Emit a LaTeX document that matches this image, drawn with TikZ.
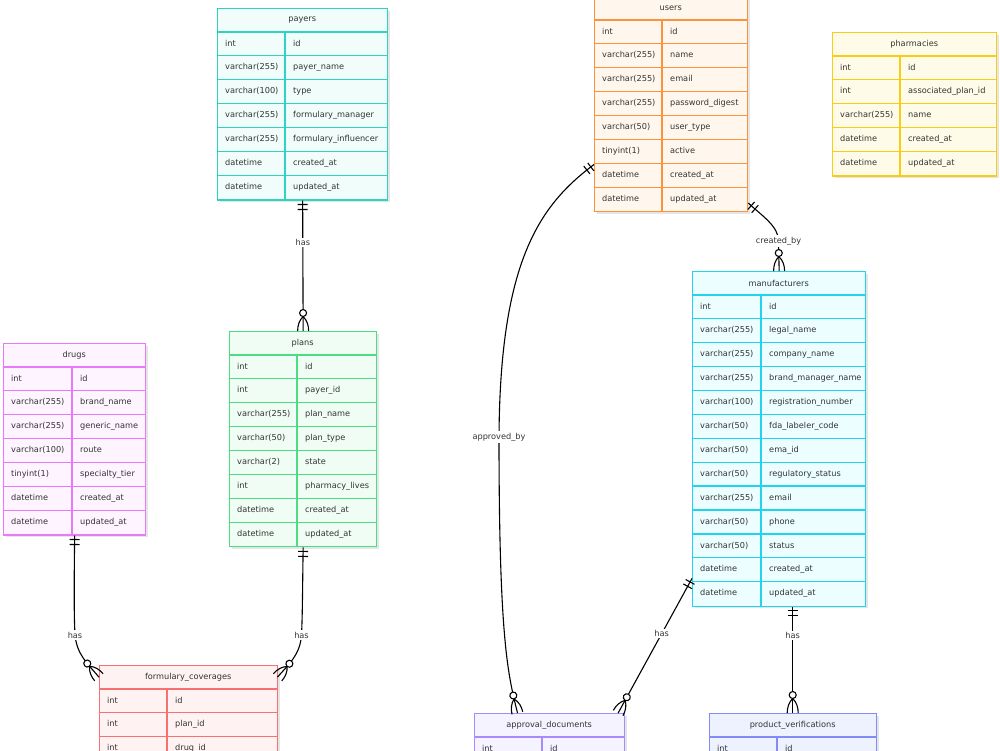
\documentclass[tikz,border=0pt]{standalone}
\usepackage{fontspec}
\newfontfamily\erfont{DejaVu Sans}
\usetikzlibrary{positioning, decorations.markings, shadows}

\definecolor{txt}{HTML}{333333}
\definecolor{tealD}{HTML}{2DD4BF}   \definecolor{tealL}{HTML}{F0FDFA}
\definecolor{greenD}{HTML}{4ADE80}  \definecolor{greenL}{HTML}{F0FDF4}
\definecolor{pinkD}{HTML}{E879F9}   \definecolor{pinkL}{HTML}{FDF4FF}
\definecolor{redD}{HTML}{F87171}    \definecolor{redL}{HTML}{FEF2F2}
\definecolor{orangeD}{HTML}{FB923C} \definecolor{orangeL}{HTML}{FFF7ED}
\definecolor{yellowD}{HTML}{FACC15} \definecolor{yellowL}{HTML}{FEFCE8}
\definecolor{cyanD}{HTML}{22D3EE}   \definecolor{cyanL}{HTML}{ECFEFF}
\definecolor{violetD}{HTML}{A78BFA} \definecolor{violetL}{HTML}{F5F3FF}
\definecolor{indigoD}{HTML}{818CF8} \definecolor{indigoL}{HTML}{EEF2FF}

\begin{document}
\begin{tikzpicture}[
    x=1pt, y=-1pt,
    entity/.style={draw, line width=1.3pt, anchor=north west, inner sep=0pt,
      drop shadow={shadow xshift=2pt, shadow yshift=-2pt, fill=black!10, opacity=1}},
    head/.style={anchor=north west, inner sep=0pt, minimum height=23.9,
      font=\erfont\fontsize{8.2}{10}\selectfont, text=txt},
    cell/.style={anchor=west, inner sep=0pt, text height=6pt, text depth=1.8pt,
      font=\erfont\fontsize{8.2}{10}\selectfont, text=txt},
    rowline/.style={line width=1.3pt},
    rel/.style={draw=black, line width=1.1pt},
    lbl/.style={fill=white, inner sep=1.5pt, font=\erfont\fontsize{8.2}{10}\selectfont, text=txt},
    exactlyone/.style={postaction={decorate, decoration={markings,
      mark=at position 4pt with {\draw[line width=1.1pt] (0,-5pt) -- (0,5pt);},
      mark=at position 9pt with {\draw[line width=1.1pt] (0,-5pt) -- (0,5pt);}}}},
    zeromany/.style={postaction={decorate, decoration={markings,
      mark=at position -18pt with {\draw[line width=1.1pt, fill=white] (0,0) circle (3.5pt);},
      mark=at position -14.5pt with {\draw[line width=1.1pt]
        (0,0) .. controls (4pt,4pt) and (9pt,5.5pt) .. (14.5pt,5.5pt)
        (0,0) .. controls (4pt,-4pt) and (9pt,-5.5pt) .. (14.5pt,-5.5pt);}}}}
]
\useasboundingbox (0,0) rectangle (1000,750);

% payers
\node[entity, draw=tealD, fill=tealL, minimum width=170, minimum height=191.2] (payers) at (217,8) {};
\node[head, minimum width=170] (payers-h) at (217,8) {payers};
\foreach \ty/\nm [count=\i] in {int/id, varchar(255)/payer\_name, varchar(100)/type,
    varchar(255)/formulary\_manager, varchar(255)/formulary\_influencer,
    datetime/created\_at, datetime/updated\_at} {
  \draw[rowline, tealD] (217,8+23.9*\i) -- (387,8+23.9*\i);
  \node[cell] (payers-t\i) at (225,20+23.9*\i) {\ty};
  \node[cell] (payers-n\i) at (293,20+23.9*\i) {\nm};
}
\draw[rowline, tealD] (285,31.9) -- (285,199.2);

% plans
\node[entity, draw=greenD, fill=greenL, minimum width=147, minimum height=215.1] (plans) at (229,331) {};
\node[head, minimum width=147] (plans-h) at (229,331) {plans};
\foreach \ty/\nm [count=\i] in {int/id, int/payer\_id, varchar(255)/plan\_name,
    varchar(50)/plan\_type, varchar(2)/state, int/pharmacy\_lives,
    datetime/created\_at, datetime/updated\_at} {
  \draw[rowline, greenD] (229,331+23.9*\i) -- (376,331+23.9*\i);
  \node[cell] (plans-t\i) at (237,343+23.9*\i) {\ty};
  \node[cell] (plans-n\i) at (305,343+23.9*\i) {\nm};
}
\draw[rowline, greenD] (297,354.9) -- (297,546.1);

% drugs
\node[entity, draw=pinkD, fill=pinkL, minimum width=142, minimum height=191.2] (drugs) at (3,343) {};
\node[head, minimum width=142] (drugs-h) at (3,343) {drugs};
\foreach \ty/\nm [count=\i] in {int/id, varchar(255)/brand\_name, varchar(255)/generic\_name,
    varchar(100)/route, tinyint(1)/specialty\_tier,
    datetime/created\_at, datetime/updated\_at} {
  \draw[rowline, pinkD] (3,343+23.9*\i) -- (145,343+23.9*\i);
  \node[cell] (drugs-t\i) at (11,355+23.9*\i) {\ty};
  \node[cell] (drugs-n\i) at (80,355+23.9*\i) {\nm};
}
\draw[rowline, pinkD] (72,366.9) -- (72,534.2);

% formulary_coverages
\node[entity, draw=redD, fill=redL, minimum width=178, minimum height=95.6] (fc) at (99,665) {};
\node[head, minimum width=178] (fc-h) at (99,665) {formulary\_coverages};
\foreach \ty/\nm [count=\i] in {int/id, int/plan\_id, int/drug\_id} {
  \draw[rowline, redD] (99,665+23.9*\i) -- (277,665+23.9*\i);
  \node[cell] (fc-t\i) at (107,677+23.9*\i) {\ty};
  \node[cell] (fc-n\i) at (175,677+23.9*\i) {\nm};
}
\draw[rowline, redD] (167,688.9) -- (167,760.6);

% users
\node[entity, draw=orangeD, fill=orangeL, minimum width=153, minimum height=215.1] (users) at (594,-4) {};
\node[head, minimum width=153] (users-h) at (594,-4) {users};
\foreach \ty/\nm [count=\i] in {int/id, varchar(255)/name, varchar(255)/email,
    varchar(255)/password\_digest, varchar(50)/user\_type, tinyint(1)/active,
    datetime/created\_at, datetime/updated\_at} {
  \draw[rowline, orangeD] (594,-4+23.9*\i) -- (747,-4+23.9*\i);
  \node[cell] (users-t\i) at (602,8+23.9*\i) {\ty};
  \node[cell] (users-n\i) at (670,8+23.9*\i) {\nm};
}
\draw[rowline, orangeD] (662,19.9) -- (662,211.1);

% pharmacies
\node[entity, draw=yellowD, fill=yellowL, minimum width=164, minimum height=143.4] (pharmacies) at (832,32) {};
\node[head, minimum width=164] (pharmacies-h) at (832,32) {pharmacies};
\foreach \ty/\nm [count=\i] in {int/id, int/associated\_plan\_id, varchar(255)/name,
    datetime/created\_at, datetime/updated\_at} {
  \draw[rowline, yellowD] (832,32+23.9*\i) -- (996,32+23.9*\i);
  \node[cell] (pharmacies-t\i) at (840,44+23.9*\i) {\ty};
  \node[cell] (pharmacies-n\i) at (908,44+23.9*\i) {\nm};
}
\draw[rowline, yellowD] (900,55.9) -- (900,175.4);

% manufacturers
\node[entity, draw=cyanD, fill=cyanL, minimum width=173, minimum height=334.6] (mf) at (692,271) {};
\node[head, minimum width=173] (mf-h) at (692,271) {manufacturers};
\foreach \ty/\nm [count=\i] in {int/id, varchar(255)/legal\_name, varchar(255)/company\_name,
    varchar(255)/brand\_manager\_name, varchar(100)/registration\_number,
    varchar(50)/fda\_labeler\_code, varchar(50)/ema\_id, varchar(50)/regulatory\_status,
    varchar(255)/email, varchar(50)/phone, varchar(50)/status,
    datetime/created\_at, datetime/updated\_at} {
  \draw[rowline, cyanD] (692,271+23.9*\i) -- (865,271+23.9*\i);
  \node[cell] (mf-t\i) at (700,283+23.9*\i) {\ty};
  \node[cell] (mf-n\i) at (769,283+23.9*\i) {\nm};
}
\draw[rowline, cyanD] (761,294.9) -- (761,605.6);

% approval_documents
\node[entity, draw=violetD, fill=violetL, minimum width=150, minimum height=47.8] (ad) at (474,713) {};
\node[head, minimum width=150] (ad-h) at (474,713) {approval\_documents};
\draw[rowline, violetD] (474,736.9) -- (624,736.9);
\node[cell] (ad-t1) at (482,748.9) {int};
\node[cell] (ad-n1) at (550,748.9) {id};
\draw[rowline, violetD] (542,736.9) -- (542,760.8);

% product_verifications
\node[entity, draw=indigoD, fill=indigoL, minimum width=167, minimum height=47.8] (pv) at (709,713) {};
\node[head, minimum width=167] (pv-h) at (709,713) {product\_verifications};
\draw[rowline, indigoD] (709,736.9) -- (876,736.9);
\node[cell] (pv-t1) at (717,748.9) {int};
\node[cell] (pv-n1) at (785,748.9) {id};
\draw[rowline, indigoD] (777,736.9) -- (777,760.8);

% Relationships
\draw[rel, exactlyone, zeromany] (payers.south) -- node[lbl, pos=.32] (l-payers-plans) {has} (plans.north);
\draw[rel, exactlyone, zeromany] (drugs.south) .. controls (74,590) and (74,615) .. (75,635)
  node[lbl] (l-drugs-fc) {has} .. controls (77,655) and (88,664) .. (fc-h.west);
\draw[rel, exactlyone, zeromany] (plans.south) .. controls (302.5,590) and (302.5,615) .. (301.5,635)
  node[lbl] (l-plans-fc) {has} .. controls (300,655) and (289,664) .. (fc-h.east);
\draw[rel, exactlyone, zeromany] (users.-52) .. controls (762,216) and (778.5,226) .. (778.5,241)
  node[lbl] (l-users-mf) {created\_by} -- (mf.north);
\draw[rel, exactlyone, zeromany] (users.218) .. controls (540,205) and (500,260) .. (499,437)
  node[lbl] (l-users-ad) {approved\_by} .. controls (499,640) and (508,675) .. (ad-h.159);
\draw[rel, exactlyone, zeromany] (mf.238) -- node[lbl, pos=.41] (l-mf-ad) {has} (ad-h.10);
\draw[rel, exactlyone, zeromany] (mf.south -| pv-h.north) -- node[lbl, pos=.27] (l-mf-pv) {has} (pv-h.north);

\end{tikzpicture}
\end{document}
